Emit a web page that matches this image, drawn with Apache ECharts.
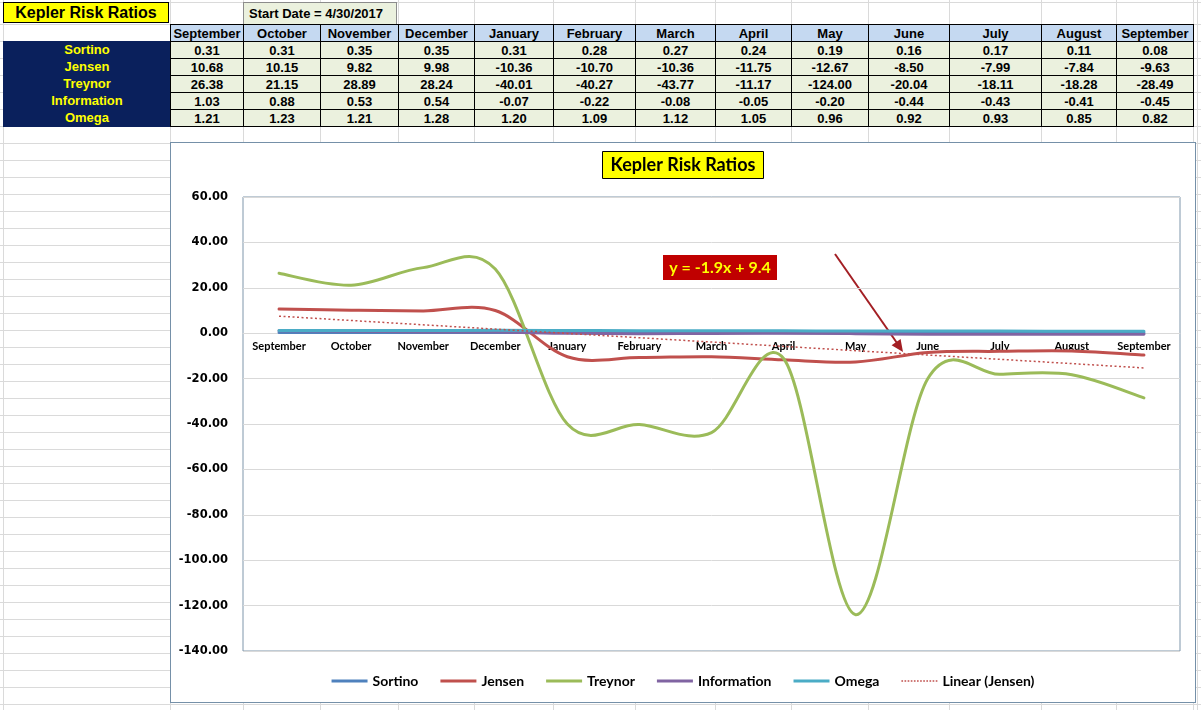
<!DOCTYPE html>
<html>
<head>
<meta charset="utf-8">
<title>Kepler Risk Ratios</title>
<script src="https://cdn.jsdelivr.net/npm/echarts@6/dist/echarts.min.js"></script>
<style>
html, body { margin:0; padding:0; width:1201px; height:710px; overflow:hidden; background:#fff; font-family:"Liberation Sans", Arial, sans-serif; }
.cell { position:absolute; box-sizing:border-box; font-weight:bold; font-size:13px; text-align:center; line-height:17px; white-space:nowrap; color:#000; }
#chartBox { position:absolute; left:170px; top:142px; width:1026px; height:561px; border:1px solid #7590a8; box-sizing:border-box; background:#fff; }
#chart { width:1024px; height:559px; }
</style>
</head>
<body>
<div id="chartBox"><div id="chart"></div></div>
<script>
// 月份（横轴）
var months = ['September', 'October', 'November', 'December', 'January', 'February', 'March', 'April', 'May', 'June', 'July', 'August', 'September'];
var startDate = '4/30/2017';

// 各项风险比率
var sortino = [0.31, 0.31, 0.35, 0.35, 0.31, 0.28, 0.27, 0.24, 0.19, 0.16, 0.17, 0.11, 0.08];
var jensen = [10.68, 10.15, 9.82, 9.98, -10.36, -10.70, -10.36, -11.75, -12.67, -8.50, -7.99, -7.84, -9.63];
var treynor = [26.38, 21.15, 28.89, 28.24, -40.01, -40.27, -43.77, -11.17, -124.00, -20.04, -18.11, -18.28, -28.49];
var information = [1.03, 0.88, 0.53, 0.54, -0.07, -0.22, -0.08, -0.05, -0.20, -0.44, -0.43, -0.41, -0.45];
var omega = [1.21, 1.23, 1.21, 1.28, 1.20, 1.09, 1.12, 1.05, 0.96, 0.92, 0.93, 0.85, 0.82];

// Jensen 趋势线两端
var trendStart = 7.5;
var trendEnd = -15.3;
var trendLabel = 'y = -1.9x + 9.4';

// y轴刻度
var yMin = -140, yMax = 60, yStep = 20;

var rowNames = ['Sortino', 'Jensen', 'Treynor', 'Information', 'Omega'];
var rowData = [sortino, jensen, treynor, information, omega];

//表格部分
var colEdges = [170, 243, 320, 398, 474, 553, 635, 715, 791, 868, 949, 1041, 1116, 1193];

function addDiv(css, text, cls) {
	var d = document.createElement('div');
	if (cls) d.className = cls;
	d.style.cssText = css;
	if (text != null) d.textContent = text;
	document.body.insertBefore(d, document.getElementById('chartBox'));
	return d;
}

// 背景网格线
for (var y = 24; y < 710; y += 17) {
	addDiv('position:absolute;left:0;top:' + y + 'px;width:1201px;height:1px;background:#dadada;');
}
addDiv('position:absolute;left:0;top:2px;width:1201px;height:1px;background:#dadada;');
var vLines = [3].concat(colEdges).concat([1197]);
for (var i = 0; i < vLines.length; i++) {
	addDiv('position:absolute;top:0;left:' + vLines[i] + 'px;width:1px;height:710px;background:#dadada;');
}

// 标题
addDiv('left:3px;top:2px;width:166px;height:21px;background:#ffff00;border:1px solid #000;font-size:16px;line-height:20px;', 'Kepler Risk Ratios', 'cell');
addDiv('left:243px;top:2px;width:154px;height:23px;background:#ebf1de;border:1px solid #8c8c8c;text-align:left;padding-left:5px;line-height:22px;', 'Start Date = ' + startDate, 'cell');

// 表头
for (var c = 0; c < months.length; c++) {
	addDiv('left:' + colEdges[c] + 'px;top:24px;width:' + (colEdges[c + 1] - colEdges[c] + 1) + 'px;height:18px;background:#c5d9f1;border:1px solid #000;', months[c], 'cell');
}
// 左侧名称
addDiv('position:absolute;left:3px;top:41px;width:168px;height:86px;background:#0a205c;');
for (var r = 0; r < rowNames.length; r++) {
	var rowTop = 41 + r * 17;
	addDiv('left:3px;top:' + rowTop + 'px;width:168px;height:18px;color:#ffff00;', rowNames[r], 'cell');
	for (var c2 = 0; c2 < months.length; c2++) {
		addDiv('left:' + colEdges[c2] + 'px;top:' + rowTop + 'px;width:' + (colEdges[c2 + 1] - colEdges[c2] + 1) + 'px;height:18px;background:#ebf1de;border:1px solid #000;', rowData[r][c2].toFixed(2), 'cell');
	}
}

//折线图
var trendData = [];
for (var k = 0; k < months.length; k++) trendData.push(null);
trendData[0] = trendStart;
trendData[months.length - 1] = trendEnd;

var dotIcon = 'path://';
for (var d = 0; d < 12; d++) dotIcon += 'M' + (d * 3) + ',0h1.6v1.6h-1.6z';

// Excel 风格平滑曲线（Catmull-Rom），用坐标轴换算像素
function smoothSeries(name, data, color) {
	return {
		name: name,
		type: 'custom',
		data: data.map(function (v, i) { return [i, v]; }),
		encode: { x: 0, y: 1 },
		itemStyle: { color: color },
		renderItem: function (params, api) {
			if (params.dataIndex !== 0) return null;
			var pts = data.map(function (v, i) { return api.coord([i, v]); });
			var n = pts.length;
			var path = 'M' + pts[0][0] + ' ' + pts[0][1];
			for (var i = 0; i < n - 1; i++) {
				var p0 = pts[Math.max(i - 1, 0)], p1 = pts[i], p2 = pts[i + 1], p3 = pts[Math.min(i + 2, n - 1)];
				var c1x = p1[0] + (p2[0] - p0[0]) / 6, c1y = p1[1] + (p2[1] - p0[1]) / 6;
				var c2x = p2[0] - (p3[0] - p1[0]) / 6, c2y = p2[1] - (p3[1] - p1[1]) / 6;
				path += ' C' + c1x + ' ' + c1y + ' ' + c2x + ' ' + c2y + ' ' + p2[0] + ' ' + p2[1];
			}
			return {
				type: 'path',
				shape: { pathData: path },
				style: { fill: null, stroke: color, lineWidth: 3, lineCap: 'round', lineJoin: 'round' }
			};
		}
	};
}

var xOffset = -(559 - 54 - 51) * (0 - yMin) / (yMax - yMin);

var option = {
	animation: false,
	title: {
		text: 'Kepler Risk Ratios',
		left: 'center',
		top: 8,
		backgroundColor: '#ffff00',
		borderColor: '#000',
		borderWidth: 1,
		padding: [5, 8],
		textStyle: { fontFamily: 'Lato', fontWeight: 'bold', fontSize: 18, color: '#000' }
	},
	legend: {
		bottom: 9,
		left: 'center',
		itemWidth: 36,
		itemHeight: 3,
		itemGap: 22,
		selectedMode: false,
		textStyle: { fontFamily: 'Lato', fontWeight: 'bold', fontSize: 14, color: '#000' },
		data: [
			{ name: 'Sortino', icon: 'rect' },
			{ name: 'Jensen', icon: 'rect' },
			{ name: 'Treynor', icon: 'rect' },
			{ name: 'Information', icon: 'rect' },
			{ name: 'Omega', icon: 'rect' },
			{ name: 'Linear (Jensen)', icon: dotIcon }
		]
	},
	grid: {
		left: 72,
		top: 54,
		right: 15,
		bottom: 51,
		show: true,
		borderColor: '#7f96ab',
		borderWidth: 1
	},
	xAxis: {
		type: 'category',
		boundaryGap: true,
		data: months,
		position: 'bottom',
		offset: xOffset,
		axisLine: { show: true, onZero: false, lineStyle: { color: '#d9d9d9' } },
		axisTick: { show: false },
		axisLabel: { interval: 0, margin: 8, fontFamily: 'Lato', fontWeight: 'bold', fontSize: 11, color: '#000' }
	},
	yAxis: {
		type: 'value',
		min: yMin,
		max: yMax,
		interval: yStep,
		axisLine: { show: false },
		axisTick: { show: false },
		splitLine: { lineStyle: { color: '#d9d9d9' } },
		axisLabel: {
			margin: 15,
			fontFamily: 'DejaVu Sans',
			fontWeight: 'bold',
			fontSize: 11.5,
			color: '#000',
			formatter: function (v) { return v.toFixed(2); }
		}
	},
	series: [
		smoothSeries('Sortino', sortino, '#4f81bd'),
		smoothSeries('Jensen', jensen, '#c0504d'),
		smoothSeries('Treynor', treynor, '#9bbb59'),
		smoothSeries('Information', information, '#8064a2'),
		smoothSeries('Omega', omega, '#4bacc6'),
		{
			name: 'Linear (Jensen)',
			type: 'line',
			data: trendData,
			connectNulls: true,
			symbol: 'none',
			lineStyle: { color: '#c0504d', width: 1.5, type: [2, 2.5] },
			itemStyle: { color: '#c0504d' }
		}
	],
	graphic: [
		{ type: 'rect', shape: { x: 492, y: 112, width: 114, height: 25 }, style: { fill: '#c00000' } },
		{
			type: 'text', x: 549, y: 125,
			style: { text: trendLabel, fill: '#ffff00', font: 'bold 16px Lato', align: 'center', verticalAlign: 'middle', textAlign: 'center', textVerticalAlign: 'middle' }
		},
		{ type: 'line', shape: { x1: 664, y1: 111, x2: 726, y2: 200 }, style: { stroke: '#a31f24', lineWidth: 2 } },
		{ type: 'polygon', shape: { points: [[732, 209], [720.6, 202.2], [729.6, 196]] }, style: { fill: '#a31f24' } }
	]
};

var chart = echarts.init(document.getElementById('chart'));
chart.setOption(option);
</script>
</body>
</html>
